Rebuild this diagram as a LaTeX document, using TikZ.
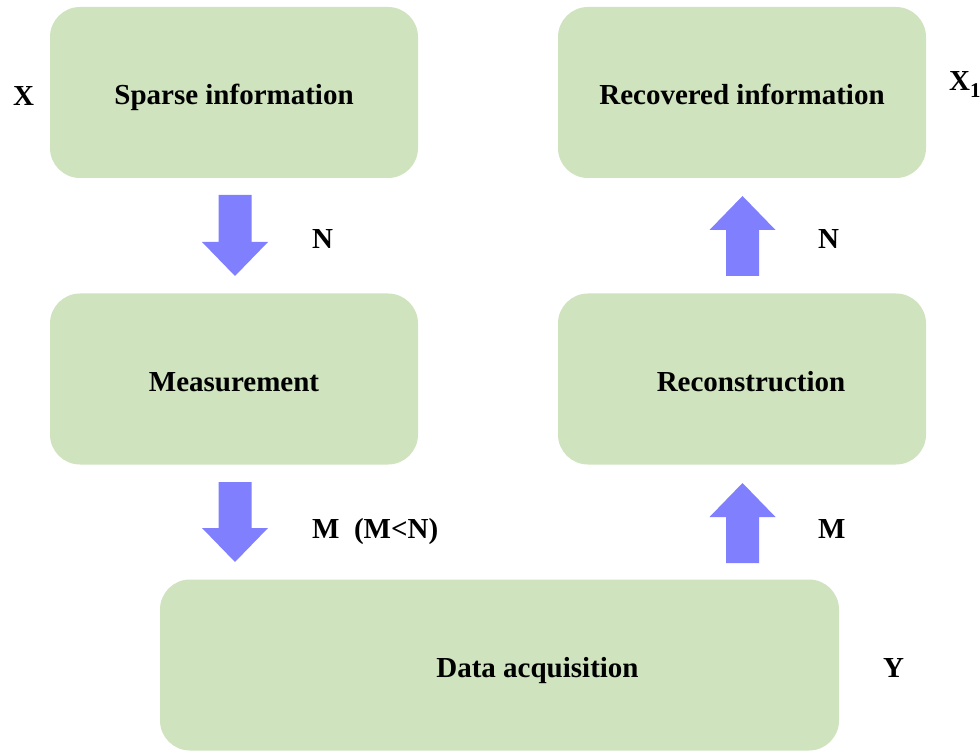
\documentclass[tikz,border=0pt]{standalone}
\usepackage{fontspec}
\setmainfont{Liberation Serif}
\usetikzlibrary{calc}

\definecolor{boxgreen}{RGB}{207,227,191}
\definecolor{arrowblue}{RGB}{128,128,255}

\tikzset{
  stagebox/.style={fill=boxgreen, draw=none, rounded corners=30pt,
    minimum width=#1, minimum height=171pt, inner sep=0pt,
    text height=24pt, text depth=0pt,
    font=\fontsize{29}{34}\selectfont\bfseries},
  stagebox/.default=368pt,
  textshift/.style={execute at begin node={\hspace*{#1}}},
  sidelabel/.style={anchor=base west, inner sep=0pt,
    font=\fontsize{29}{34}\selectfont\bfseries},
  arrowfill/.style={fill=arrowblue}
}

% vertical block arrow from tail point #1 to tip point #2
\newcommand\blockarrow[2]{%
  \fill[arrowfill] let \p1=(#1), \p2=(#2),
    \n1={ifthenelse(\y2>\y1,34,-34)} in
    (\x1-16.5pt,\y1) -- (\x1-16.5pt,\y2-\n1) -- (\x1-33pt,\y2-\n1) --
    (\x2,\y2) -- (\x1+33pt,\y2-\n1) -- (\x1+16.5pt,\y2-\n1) --
    (\x1+16.5pt,\y1) -- cycle;}

\begin{document}
\begin{tikzpicture}[x=1pt,y=-1pt]
\path[use as bounding box] (0,0) rectangle (980,751);

% stages
\node[stagebox] (sparse)    at (234,92.5)   {Sparse information};
\node[stagebox] (measure)   at (234,379)    {Measurement};
\node[stagebox=679pt, textshift=76pt] (acq) at (499.5,665) {Data acquisition};
\node[stagebox, textshift=18pt] (recon) at (742,379) {Reconstruction};
\node[stagebox] (recovered) at (742,92.5)   {Recovered information};

% arrow end points
\coordinate (a1t) at (235,195); \coordinate (a1h) at (235,276);
\coordinate (a2t) at (235,482); \coordinate (a2h) at (235,562);
\coordinate (a3t) at (742.5,563); \coordinate (a3h) at (742.5,483);
\coordinate (a4t) at (742.5,276); \coordinate (a4h) at (742.5,196);

\blockarrow{a1t}{a1h}
\blockarrow{a2t}{a2h}
\blockarrow{a3t}{a3h}
\blockarrow{a4t}{a4h}

% side labels
\node[sidelabel] (lx)  at (13,106)  {X};
\node[sidelabel] (lx1) at (949,91)  {X\raisebox{-0.22em}{\fontsize{21}{21}\selectfont 1}};
\node[sidelabel] (ln1) at (312,249) {N};
\node[sidelabel] (lm1) at (312,538) {M\ \ (M<N)};
\node[sidelabel] (ln2) at (818,249) {N};
\node[sidelabel] (lm2) at (818,538) {M};
\node[sidelabel] (ly)  at (883,677) {Y};
\end{tikzpicture}
\end{document}
